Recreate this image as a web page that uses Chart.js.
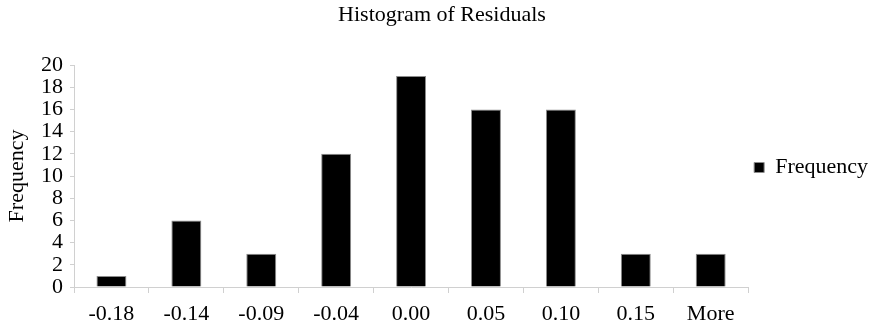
<!DOCTYPE html>
<html>
<head>
<meta charset="utf-8">
<script src="https://cdn.jsdelivr.net/npm/chart.js@4/dist/chart.umd.min.js"></script>
<style>
  html, body { margin: 0; padding: 0; background: #fff; }
  #wrap { width: 884px; height: 327px; }
</style>
</head>
<body>
<div id="wrap"><canvas id="histChart"></canvas></div>
<script>
// Dữ liệu biểu đồ
const categories = ["-0.18", "-0.14", "-0.09", "-0.04", "0.00", "0.05", "0.10", "0.15", "More"];
const frequencies = [1, 6, 3, 12, 19, 16, 16, 3, 3];
const yTicks = [0, 2, 4, 6, 8, 10, 12, 14, 16, 18, 20];

const serif = "'Liberation Serif', 'Times New Roman', serif";

const ctx = document.getElementById("histChart").getContext("2d");
window.histChart = new Chart(ctx, {
  type: "bar",
  data: {
    labels: categories,
    datasets: [
      {
        label: "Frequency",
        data: frequencies,
        backgroundColor: "#000000",
        borderColor: "#8c8c8c",
        borderWidth: 1,
        barPercentage: 0.4,
        categoryPercentage: 1,
      },
    ],
  },
  options: {
    responsive: true,
    maintainAspectRatio: false,
    animation: false,
    layout: { padding: { top: 0, right: 6, left: 6, bottom: -8 } },
    scales: {
      x: {
        offset: true,
        grid: {
          offset: true,
          drawOnChartArea: false,
          tickLength: 6,
          color: "#d0d0d0",
        },
        border: { color: "#d0d0d0" },
        ticks: {
          color: "#000",
          font: { family: serif, size: 22, lineHeight: 1 },
          padding: 10,
        },
      },
      y: {
        min: 0,
        max: 20,
        afterBuildTicks: (axis) => {
          axis.ticks = yTicks.map((v) => ({ value: v }));
        },
        grid: { drawOnChartArea: false, tickLength: 4, color: "#d0d0d0" },
        border: { color: "#d0d0d0" },
        ticks: {
          autoSkip: false,
          color: "#000",
          font: { family: serif, size: 22, lineHeight: 0.4 },
          padding: 7,
        },
        title: {
          display: true,
          text: "Frequency",
          color: "#000",
          font: { family: serif, size: 22, lineHeight: 1 },
          padding: { top: 0, bottom: 6 },
        },
      },
    },
    plugins: {
      title: {
        display: true,
        text: "Histogram of Residuals",
        color: "#000",
        font: { family: serif, size: 22, weight: "normal", lineHeight: 1 },
        padding: { top: 4, bottom: 39 },
      },
      legend: {
        position: "right",
        labels: {
          color: "#000",
          font: { family: serif, size: 22 },
          boxWidth: 10,
          boxHeight: 10,
          padding: 6,
        },
      },
      tooltip: { enabled: false },
    },
  },
});
</script>
</body>
</html>
